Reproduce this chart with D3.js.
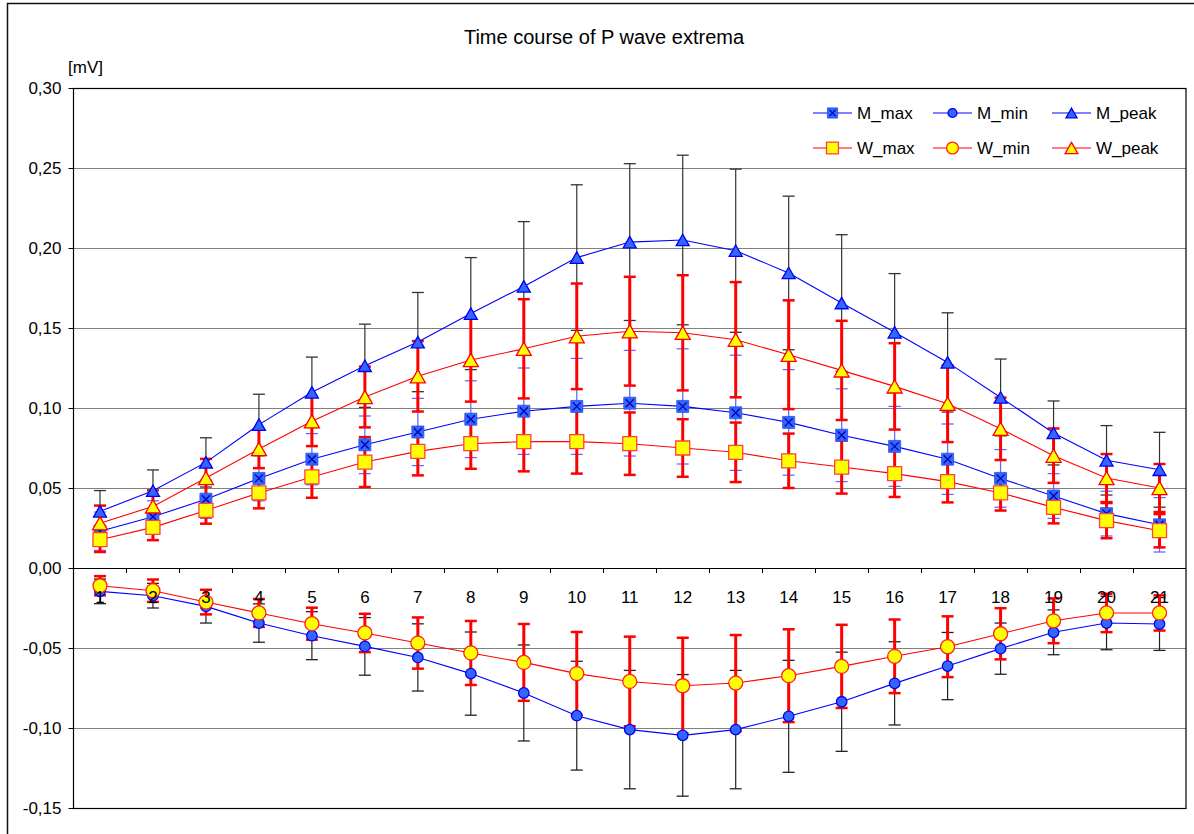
<!DOCTYPE html>
<html><head><meta charset="utf-8">
<script src="https://cdn.jsdelivr.net/npm/d3@7"></script>
<style>
body{margin:0;background:#fff;}
svg{display:block;}
text{font-family:"Liberation Sans",Arial,Helvetica,sans-serif;fill:#000;}
</style>
</head><body>
<svg id="chart" width="1194" height="834"></svg>
<script>
// ---------- data ----------
const categories = ["1","2","3","4","5","6","7","8","9","10","11","12","13","14","15","16","17","18","19","20","21"];

const yTickValues = [-0.15,-0.10,-0.05,0.00,0.05,0.10,0.15,0.20,0.25,0.30];
const yTickLabels = ["-0,15","-0,10","-0,05","0,00","0,05","0,10","0,15","0,20","0,25","0,30"];

const M_max      = [0.023,0.032,0.043,0.056,0.068,0.077,0.085,0.093,0.098,0.101,0.103,0.101,0.097,0.091,0.083,0.076,0.068,0.056,0.045,0.034,0.027];
const M_max_sd   = [0.012,0.010,0.012,0.014,0.016,0.018,0.021,0.024,0.027,0.030,0.033,0.036,0.036,0.033,0.029,0.025,0.022,0.018,0.014,0.014,0.017];
const M_min      = [-0.0146,-0.0173,-0.024,-0.0344,-0.0423,-0.049,-0.0559,-0.066,-0.0781,-0.0923,-0.101,-0.1046,-0.101,-0.0927,-0.0836,-0.0721,-0.0613,-0.0504,-0.0402,-0.0344,-0.035];
const M_min_sd   = [0.0077,0.0077,0.0104,0.012,0.015,0.018,0.021,0.026,0.030,0.034,0.037,0.038,0.037,0.035,0.031,0.026,0.021,0.016,0.014,0.0167,0.0165];
const M_peak     = [0.0354,0.0483,0.066,0.0896,0.1098,0.1264,0.1412,0.159,0.176,0.194,0.2037,0.205,0.1983,0.1844,0.1656,0.1473,0.1285,0.1066,0.0844,0.0673,0.0614];
const M_peak_sd  = [0.013,0.013,0.0154,0.019,0.022,0.026,0.031,0.035,0.0405,0.0455,0.049,0.053,0.051,0.048,0.0427,0.0367,0.031,0.024,0.020,0.0217,0.0234];
const W_max      = [0.0177,0.0254,0.036,0.0469,0.0569,0.0662,0.0729,0.0777,0.079,0.079,0.0777,0.075,0.0723,0.067,0.0631,0.059,0.054,0.0469,0.0379,0.0296,0.0233];
const W_max_sd   = [0.0077,0.008,0.0083,0.0096,0.013,0.0156,0.015,0.0157,0.0186,0.020,0.0195,0.018,0.0186,0.017,0.0166,0.0146,0.013,0.011,0.010,0.011,0.0104];
const W_min      = [-0.0111,-0.0142,-0.0213,-0.0281,-0.0348,-0.0406,-0.0469,-0.0531,-0.059,-0.066,-0.0709,-0.0736,-0.0719,-0.0673,-0.0615,-0.0552,-0.0492,-0.0411,-0.033,-0.0281,-0.0281];
const W_min_sd   = [0.006,0.007,0.0077,0.0087,0.010,0.012,0.016,0.020,0.024,0.026,0.028,0.030,0.030,0.029,0.026,0.023,0.019,0.016,0.014,0.012,0.011];
const W_peak     = [0.028,0.0385,0.0562,0.0744,0.0917,0.1069,0.1198,0.130,0.137,0.1448,0.148,0.147,0.1427,0.1333,0.1235,0.1135,0.1027,0.087,0.0702,0.0562,0.050];
const W_peak_sd  = [0.011,0.010,0.012,0.012,0.0155,0.019,0.022,0.026,0.031,0.033,0.034,0.036,0.036,0.034,0.031,0.027,0.024,0.0195,0.017,0.015,0.015];

const seriesNames = ["M_max","M_min","M_peak","W_max","W_min","W_peak"];
const chartTitle = "Time course of P wave extrema";
const yUnit = "[mV]";

// ---------- layout / styles ----------
const W = 1194, H = 834;
const plot = {left:73.5, right:1186, top:88, bottom:808};

const styles = {
  M_max:  {shape:"squareX", size:12, fill:"#3366ff", stroke:"#2a52e0", mark:"#0000b0", line:"#0000ff", eb:"#6a6aff", ebW:1.3},
  M_min:  {shape:"circle",   size:10.5, fill:"#3366ff", stroke:"#0000ee", line:"#0000ff", eb:"#222", ebW:1.2},
  M_peak: {shape:"triangle", size:13, fill:"#3366ff", stroke:"#0000ee", line:"#0000ff", eb:"#333", ebW:1.2},
  W_max:  {shape:"square",   size:14, fill:"#ffff00", stroke:"#ff4040", line:"#ff0000", eb:"#ff0000", ebW:3},
  W_min:  {shape:"circle",   size:14, fill:"#ffff00", stroke:"#ff2020", line:"#ff0000", eb:"#ff0000", ebW:3},
  W_peak: {shape:"triangle", size:15, fill:"#ffff00", stroke:"#ff0000", line:"#ff0000", eb:"#ff0000", ebW:3}
};

const series = [
  {name:"M_max",  values:M_max,  sd:M_max_sd},
  {name:"M_min",  values:M_min,  sd:M_min_sd},
  {name:"M_peak", values:M_peak, sd:M_peak_sd},
  {name:"W_max",  values:W_max,  sd:W_max_sd},
  {name:"W_min",  values:W_min,  sd:W_min_sd},
  {name:"W_peak", values:W_peak, sd:W_peak_sd}
];

const svg = d3.select("#chart");

const x = d3.scaleBand().domain(categories).range([plot.left, plot.right]).paddingInner(0).paddingOuter(0);
const y = d3.scaleLinear().domain([-0.15, 0.30]).range([plot.bottom, plot.top]);
const cx = c => x(c) + x.bandwidth()/2;

// outer frame
svg.append("rect").attr("x",7.5).attr("y",3.5).attr("width",1200).attr("height",840)
  .attr("fill","#fff").attr("stroke","#111").attr("stroke-width",1.5);

// title
svg.append("text").attr("x",604).attr("y",44).attr("text-anchor","middle")
  .style("font-size","20px").text(chartTitle);
svg.append("text").attr("x",68).attr("y",73).style("font-size","17px").text(yUnit);

// gridlines
svg.append("g").selectAll("line").data(yTickValues.filter(v => v !== 0 && v !== 0.30 && v !== -0.15))
  .join("line")
  .attr("x1",plot.left).attr("x2",plot.right)
  .attr("y1",d=>Math.round(y(d))+0.5).attr("y2",d=>Math.round(y(d))+0.5)
  .attr("stroke","#808080").attr("stroke-width",1);

// zero line
svg.append("line").attr("x1",plot.left).attr("x2",plot.right)
  .attr("y1",Math.round(y(0))+0.5).attr("y2",Math.round(y(0))+0.5)
  .attr("stroke","#000").attr("stroke-width",1);

// plot border
svg.append("rect").attr("x",plot.left).attr("y",plot.top+0.5)
  .attr("width",plot.right-plot.left).attr("height",plot.bottom-plot.top)
  .attr("fill","none").attr("stroke","#000").attr("stroke-width",1.2);

// y axis
const yAxis = d3.axisLeft(y).tickValues(yTickValues)
  .tickFormat((d,i)=>yTickLabels[i]).tickSize(5).tickPadding(7);
const gy = svg.append("g").attr("transform",`translate(${plot.left},0)`).call(yAxis);
gy.select(".domain").remove();
gy.selectAll(".tick line").attr("stroke","#000");
gy.selectAll(".tick text").style("font-size","17px").style("font-family",'"Liberation Sans",Arial,sans-serif').attr("fill","#000");

// x tick marks on zero line at category boundaries
svg.append("g").selectAll("line").data(categories.slice(1)).join("line")
  .attr("x1",d=>Math.round(x(d))+0.5).attr("x2",d=>Math.round(x(d))+0.5)
  .attr("y1",y(0)).attr("y2",y(0)+5).attr("stroke","#000").attr("stroke-width",1);

// marker path generator (centered at bbox)
function markerPath(shape, s){
  const h = s/2;
  if (shape === "square" || shape === "squareX") return `M${-h},${-h}H${h}V${h}H${-h}Z`;
  if (shape === "circle") return d3.symbol(d3.symbolCircle, Math.PI*h*h)();
  if (shape === "triangle") { const th = s*0.88/2; return `M0,${-th}L${h},${th}L${-h},${th}Z`; }
}

// error bars
const capHalf = 6;
series.forEach(s => {
  const st = styles[s.name];
  const g = svg.append("g").attr("class","eb-"+s.name);
  categories.forEach((c,i) => {
    const xc = cx(c), hi = y(s.values[i]+s.sd[i]), lo = y(s.values[i]-s.sd[i]);
    g.append("line").attr("x1",xc).attr("x2",xc).attr("y1",hi).attr("y2",lo)
      .attr("stroke",st.eb).attr("stroke-width",st.ebW);
    [hi,lo].forEach(yy => g.append("line").attr("x1",xc-capHalf).attr("x2",xc+capHalf)
      .attr("y1",yy).attr("y2",yy).attr("stroke",st.eb).attr("stroke-width",st.ebW>2?2.5:1.3));
  });
});

// lines
const lineGen = d3.line().x(d=>cx(d.c)).y(d=>y(d.v));
series.forEach(s => {
  const st = styles[s.name];
  svg.append("path").datum(categories.map((c,i)=>({c, v:s.values[i]})))
    .attr("d",lineGen).attr("fill","none").attr("stroke",st.line).attr("stroke-width",1.1);
});

// markers
function drawMarker(g, name, xx, yy, scale){
  const st = styles[name];
  const s = st.size*scale;
  g.append("path").attr("d",markerPath(st.shape,s)).attr("transform",`translate(${xx},${yy})`)
    .attr("fill",st.fill).attr("stroke",st.stroke).attr("stroke-width",st.shape==="squareX"?0.8:1.3);
  if (st.shape === "squareX") {
    const k = s/2 - 2;
    g.append("path").attr("d",`M${-k},${-k}L${k},${k}M${k},${-k}L${-k},${k}`)
      .attr("transform",`translate(${xx},${yy})`).attr("stroke",st.mark).attr("stroke-width",1.3).attr("fill","none");
  }
}
series.forEach(s => {
  const g = svg.append("g").attr("class","mk-"+s.name);
  categories.forEach((c,i) => drawMarker(g, s.name, cx(c), y(s.values[i]), 1));
});

// x category labels
svg.append("g").selectAll("text").data(categories).join("text")
  .attr("x",d=>cx(d)).attr("y",y(0)+35).attr("text-anchor","middle")
  .style("font-size","17px").text(d=>d);

// legend
const legendCols = [813, 933, 1052];
const legendRows = [113, 148];
series.forEach((s,i) => {
  const st = styles[s.name];
  const lx = legendCols[i%3], ly = legendRows[Math.floor(i/3)];
  const g = svg.append("g");
  g.append("line").attr("x1",lx).attr("x2",lx+39).attr("y1",ly).attr("y2",ly)
    .attr("stroke",st.line).attr("stroke-width",1.1);
  drawMarker(g, s.name, lx+19.5, ly, 0.85);
  g.append("text").attr("x",lx+44).attr("y",ly+6).style("font-size","17px").text(s.name);
});
</script>
</body></html>
